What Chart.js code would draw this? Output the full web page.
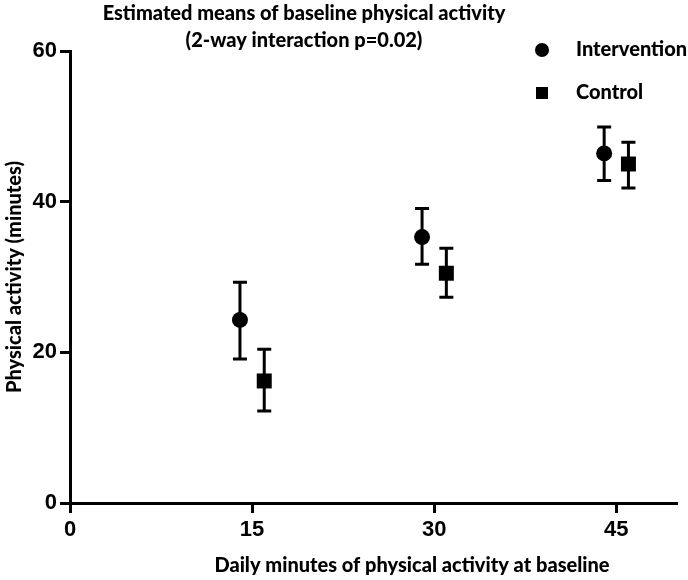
<!DOCTYPE html>
<html>
<head>
<meta charset="utf-8">
<script src="https://cdn.jsdelivr.net/npm/chart.js@4/dist/chart.umd.min.js"></script>
<style>
  html, body { margin: 0; padding: 0; background: #fff; }
  #wrap { position: relative; width: 688px; height: 580px; }
</style>
</head>
<body>
<div id="wrap"><canvas id="myChart" width="688" height="580"></canvas></div>
<script>
// data
const seriesNames = ['Intervention', 'Control'];
const interventionX = [14, 29, 44];
const interventionMean = [24.3, 35.3, 46.4];
const interventionLow = [19.1, 31.7, 42.8];
const interventionHigh = [29.3, 39.1, 49.9];
const controlX = [16, 31, 46];
const controlMean = [16.2, 30.5, 45.0];
const controlLow = [12.2, 27.3, 41.8];
const controlHigh = [20.4, 33.8, 47.9];
const xTicks = [0, 15, 30, 45];
const yTicks = [0, 20, 40, 60];
const titleLines = ['Estimated means of baseline physical activity', '(2-way interaction p=0.02)'];
const xTitle = 'Daily minutes of physical activity at baseline';
const yTitle = 'Physical activity (minutes)';

const textFont = 'Lato, "Open Sans", sans-serif';
const numFont = '"Liberation Sans Narrow", "Liberation Sans", Arial, sans-serif';

function toPoints(xs, ys, lo, hi) {
  return xs.map((x, i) => ({ x: x, y: ys[i], lo: lo[i], hi: hi[i] }));
}

// error bars + caps, drawn through the scales
const errorBars = {
  id: 'errorBars',
  beforeDatasetsDraw(chart) {
    const ctx = chart.ctx;
    const xs = chart.scales.x;
    const ys = chart.scales.y;
    ctx.save();
    ctx.strokeStyle = '#000';
    ctx.lineWidth = 3;
    ctx.lineCap = 'butt';
    chart.data.datasets.forEach(ds => {
      ds.data.forEach(p => {
        const px = xs.getPixelForValue(p.x);
        const top = ys.getPixelForValue(p.hi);
        const bot = ys.getPixelForValue(p.lo);
        ctx.beginPath();
        ctx.moveTo(px, top);
        ctx.lineTo(px, bot);
        ctx.moveTo(px - 7, top);
        ctx.lineTo(px + 7, top);
        ctx.moveTo(px - 7, bot);
        ctx.lineTo(px + 7, bot);
        ctx.stroke();
      });
    });
    ctx.restore();
  }
};

// title, legend and x-axis caption
const captions = {
  id: 'captions',
  afterDraw(chart) {
    const ctx = chart.ctx;
    ctx.save();
    ctx.fillStyle = '#000';
    ctx.textAlign = 'center';
    ctx.textBaseline = 'middle';
    ctx.font = '900 20px ' + textFont;
    ctx.fillText(titleLines[0], 304, 14);
    ctx.fillText(titleLines[1], 304, 41);

    ctx.fillText(xTitle, 412, 566);

    // legend
    ctx.textAlign = 'left';
    chart.data.datasets.forEach((ds, i) => {
      const cy = 50 + i * 43;
      ctx.beginPath();
      if (ds.pointStyle === 'circle') {
        ctx.arc(542, cy, 7, 0, Math.PI * 2);
      } else {
        ctx.rect(536, cy - 6, 12, 12);
      }
      ctx.fill();
      ctx.fillText(ds.label, 576, cy);
    });
    ctx.restore();
  }
};

const ctx = document.getElementById('myChart').getContext('2d');
const chart = new Chart(ctx, {
  type: 'scatter',
  data: {
    datasets: [{
      label: seriesNames[0],
      data: toPoints(interventionX, interventionMean, interventionLow, interventionHigh),
      pointStyle: 'circle',
      pointRadius: 8,
      backgroundColor: '#000',
      borderColor: '#000',
      borderWidth: 0
    }, {
      label: seriesNames[1],
      data: toPoints(controlX, controlMean, controlLow, controlHigh),
      pointStyle: 'rect',
      pointRadius: 10.6,
      backgroundColor: '#000',
      borderColor: '#000',
      borderWidth: 0
    }]
  },
  options: {
    responsive: false,
    animation: false,
    devicePixelRatio: 1,
    layout: { padding: { top: 51, right: 11, bottom: 0, left: 0 } },
    plugins: {
      legend: { display: false },
      tooltip: { enabled: false }
    },
    scales: {
      x: {
        type: 'linear',
        min: 0,
        max: 50,
        afterBuildTicks: (scale) => { scale.ticks = xTicks.map(v => ({ value: v })); },
        afterFit: (scale) => { scale.height = 77; },
        grid: { drawOnChartArea: false, drawTicks: true, tickLength: 10, tickWidth: 3, color: '#000' },
        border: { display: true, width: 3, color: '#000' },
        ticks: {
          color: '#000',
          padding: 4,
          font: { family: numFont, size: 22, weight: 'bold' }
        }
      },
      y: {
        type: 'linear',
        min: 0,
        max: 60,
        afterBuildTicks: (scale) => { scale.ticks = yTicks.map(v => ({ value: v })); },
        afterFit: (scale) => { scale.width = 70; },
        grid: { drawOnChartArea: false, drawTicks: true, tickLength: 10, tickWidth: 3, color: '#000' },
        border: { display: true, width: 3, color: '#000' },
        title: {
          display: true,
          text: yTitle,
          color: '#000',
          padding: { top: 3, bottom: 0 },
          font: { family: textFont, size: 20, weight: '900' }
        },
        ticks: {
          color: '#000',
          padding: 3,
          font: { family: numFont, size: 22, weight: 'bold' }
        }
      }
    }
  },
  plugins: [errorBars, captions]
});
</script>
</body>
</html>
